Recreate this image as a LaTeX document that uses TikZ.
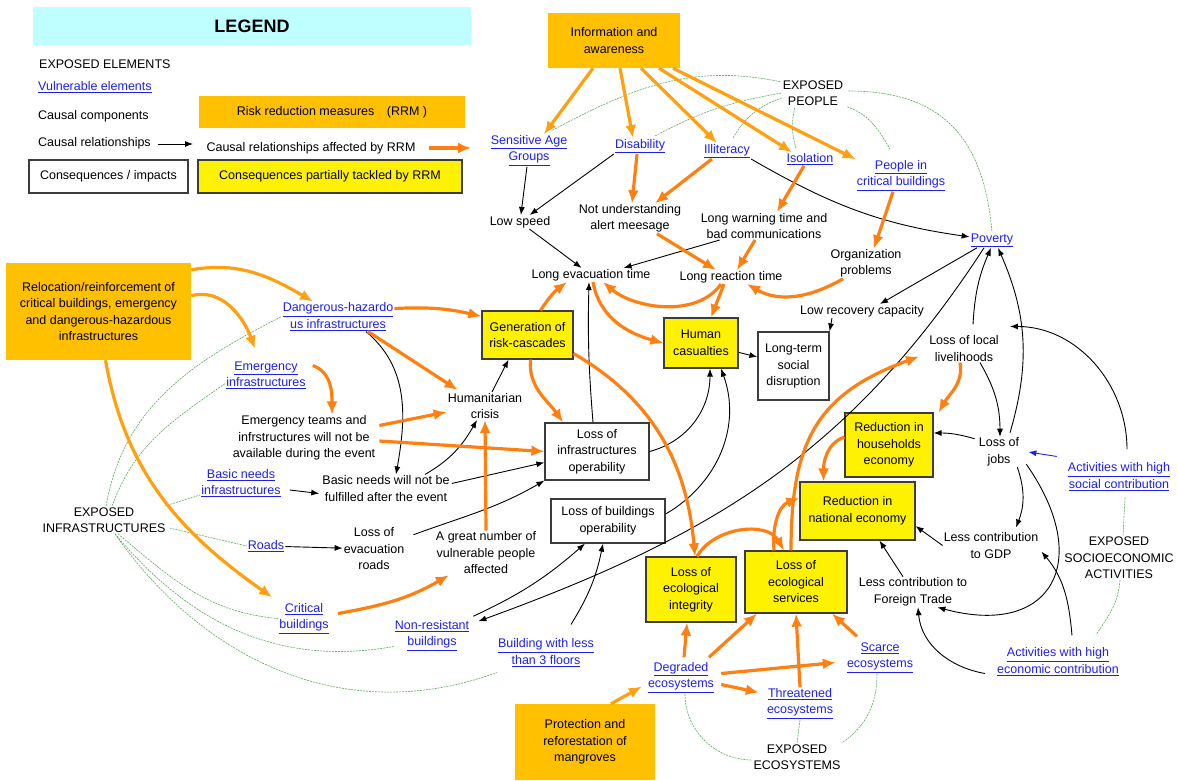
\documentclass[tikz,border=0pt]{standalone}
\usepackage{fontspec}
\setmainfont{Liberation Sans}
\usetikzlibrary{calc,arrows.meta}
\definecolor{rrmfill}{RGB}{255,192,0}
\definecolor{legcyan}{RGB}{192,255,255}
\definecolor{linkblue}{RGB}{30,30,240}
\definecolor{afforange}{RGB}{255,128,16}
\definecolor{measorange}{RGB}{255,160,16}
\definecolor{membgreen}{RGB}{90,170,90}
\definecolor{boxline}{RGB}{60,60,60}
\newcommand{\lnk}[1]{\underline{#1}}

\begin{document}
\begin{tikzpicture}[x=1pt,y=-1pt,>={Latex[length=8pt,width=6pt]},
	every node/.style={font=\fontsize{12.5}{16.5}\selectfont, align=center, inner sep=1pt},
	vul/.style={text=linkblue},
	rrmbox/.style={fill=rrmfill},
	impbox/.style={draw=boxline, line width=1.2pt, fill=white},
	partbox/.style={draw=boxline, line width=1.2pt, fill=yellow},
	cause/.style={->, line width=0.9pt},
	aff/.style={-{Latex[length=13pt,width=11pt]}, line width=3.2pt, draw=afforange},
	meas/.style={aff, draw=measorange},
	memb/.style={draw=membgreen, line width=0.6pt, dash pattern=on 2pt off 1pt}]
\useasboundingbox (0,0) rectangle (1178,780);

% legend
\node (LEG) at (252,26) [fill=legcyan, minimum width=438pt, minimum height=38pt, font=\bfseries\fontsize{18}{20}\selectfont] {LEGEND};
\node (LGEXP) at (38,64) [anchor=west] {EXPOSED ELEMENTS};
\node (LGVUL) at (37,87) [anchor=west, vul] {\lnk{Vulnerable elements}};
\node (LGCMP) at (37,116) [anchor=west] {Causal components};
\node (LGREL) at (37,143) [anchor=west] {Causal relationships};
\coordinate (LGRELEND) at (193,144);
\node (LGRRM) at (332,112) [rrmbox, minimum width=266pt, minimum height=32pt] {Risk reduction measures\quad(RRM )};
\node (LGAFF) at (311,148) {Causal relationships affected by RRM};
\coordinate (LGAFFEND) at (471,148);
\node (LGIMP) at (108.5,176.5) [impbox, minimum width=159pt, minimum height=33pt] {Consequences / impacts};
\node (LGPART) at (330,176.5) [partbox, minimum width=264pt, minimum height=33pt] {Consequences partially tackled by RRM};
\draw [cause] ($(LGREL.east)+(6,1)$) -- (LGRELEND);
\draw [aff] ($(LGAFF.east)+(12,0)$) -- (LGAFFEND);

% risk reduction measures
\node (INFO) at (614,40.5) [rrmbox, minimum width=132pt, minimum height=55pt] {Information and\\awareness};
\node (REL) at (98.5,311.5) [rrmbox, minimum width=185pt, minimum height=97pt] {Relocation/reinforcement of\\critical buildings, emergency\\and dangerous-hazardous\\infrastructures};
\node (PROT) at (585,742) [rrmbox, minimum width=140pt, minimum height=76pt] {Protection and\\reforestation of\\mangroves};

% exposed elements
\node (EP) at (813,93) {EXPOSED\\PEOPLE};
\node (EXINF) at (104,520) {EXPOSED\\INFRASTRUCTURES};
\node (EXECO) at (797,757) {EXPOSED\\ECOSYSTEMS};
\node (EXSOC) at (1119,558) {EXPOSED\\SOCIOECONOMIC\\ACTIVITIES};

% vulnerable elements
\node (SAG) at (529,150.5) [vul] {\lnk{Sensitive Age}\\\lnk{Groups}};
\node (DIS) at (640,146) [vul] {\lnk{Disability}};
\node (ILL) at (727,151) [vul] {\lnk{Illiteracy}};
\node (ISO) at (810,159) [vul] {\lnk{Isolation}};
\node (PCB) at (901,175.5) [vul] {\lnk{People in}\\\lnk{critical buildings}};
\node (POV) at (992,240) [vul] {\lnk{Poverty}};
\node (DHI) at (338,316.5) [vul] {\lnk{Dangerous-hazardo}\\\lnk{us infrastructures}};
\node (EI) at (266,375.5) [vul] {\lnk{Emergency}\\\lnk{infrastructures}};
\node (ASC) at (1119,476.5) [vul] {\lnk{Activities with high}\\\lnk{social contribution}};
\node (BNI) at (241,483) [vul] {\lnk{Basic needs}\\\lnk{infrastructures}};
\node (ROADS) at (266,546) [vul] {\lnk{Roads}};
\node (CB) at (304,618.5) [vul] {\lnk{Critical}\\\lnk{buildings}};
\node (NRB) at (432,635.5) [vul] {\lnk{Non-resistant}\\\lnk{buildings}};
\node (BL3) at (546,652.5) [vul] {\lnk{Building with less}\\\lnk{than 3 floors}};
\node (SE) at (880,657.5) [vul] {\lnk{Scarce}\\\lnk{ecosystems}};
\node (AEC) at (1058,661.5) [vul] {\lnk{Activities with high}\\\lnk{economic contribution}};
\node (DE) at (681,677.5) [vul] {\lnk{Degraded}\\\lnk{ecosystems}};
\node (TE) at (800,703.5) [vul] {\lnk{Threatened}\\\lnk{ecosystems}};

% causal components
\node (LS) at (520,222) {Low speed};
\node (NU) at (630,218.5) {Not understanding\\alert meesage};
\node (LWT) at (764,226) {Long warning time and\\bad communications};
\node (OP) at (866,263.5) {Organization\\problems};
\node (LET) at (591,275) {Long evacuation time};
\node (LRT) at (731,277) {Long reaction time};
\node (LRC) at (862,311) {Low recovery capacity};
\node (LLL) at (964,348.5) {Loss of local\\livelihoods};
\node (HCR) at (485,406) {Humanitarian\\crisis};
\node (ET) at (304,438) {Emergency teams and\\infrstructures will not be\\available during the event};
\node (JOBS) at (999,452) {Loss of\\jobs};
\node (BNF) at (386,488.5) {Basic needs will not be\\fulfilled after the event};
\node (LER) at (374,549) {Loss of\\evacuation\\roads};
\node (AGN) at (486,553) {A great number of\\vulnerable people\\affected};
\node (LCGDP) at (991,545.5) {Less contribution\\to GDP};
\node (LCFT) at (913,592) {Less contribution to\\Foreign Trade};

% consequences
\node (GRC) at (527.5,335) [partbox, minimum width=91pt, minimum height=48pt] {Generation of\\risk-cascades};
\node (HC) at (701,343) [partbox, minimum width=74pt, minimum height=50pt] {Human\\casualties};
\node (LTSD) at (793.5,366) [impbox, minimum width=71pt, minimum height=68pt] {Long-term\\social\\disruption};
\node (LIO) at (597,451.5) [impbox, minimum width=104pt, minimum height=57pt] {Loss of\\infrastructures\\operability};
\node (RHE) at (889,445) [partbox, minimum width=88pt, minimum height=64pt] {Reduction in\\households\\economy};
\node (RNE) at (857.5,511) [partbox, minimum width=115pt, minimum height=58pt] {Reduction in\\national economy};
\node (LBO) at (608,521) [impbox, minimum width=114pt, minimum height=44pt] {Loss of buildings\\operability};
\node (LEI) at (691,589.5) [partbox, minimum width=90pt, minimum height=65pt] {Loss of\\ecological\\integrity};
\node (LES) at (796,582) [partbox, minimum width=102pt, minimum height=62pt] {Loss of\\ecological\\services};

% membership
\draw [memb] ($(SAG.north east)+(-16,-4)$) to[out=28,in=168] ($(EP.west)+(0,-11)$);
\draw [memb] ($(DIS.north)+(15,-2)$) to[out=28,in=190] (EP.west);
\draw [memb] ($(ILL.north)+(6,-5)$) to[out=60,in=200] ($(EP.west)+(0,5)$);
\draw [memb] ($(ISO.north)+(-14,-4)$) to[bend left=15] ($(EP.south)+(-18,0)$);
\draw [memb] ($(EP.south east)+(3,0)$) to[out=-20,in=120] ($(PCB.north)+(-11,-10)$);
\draw [memb] ($(EP.east)+(4,-2)$) to[out=0,in=95,looseness=1.2] (POV.north);
\draw [memb] ($(EXINF.north)+(2,0)$) to[out=80,in=207] (DHI.west);
\draw [memb] ($(EXINF.north)+(8,0)$) to[out=70,in=215] ($(EI.west)+(0,8)$);
\draw [memb] ($(EXINF.east)+(-2,-14)$) -- ($(BNI.west)+(0,12)$);
\draw [memb] ($(EXINF.east)+(3,8)$) -- (ROADS.west);
\draw [memb] ($(EXINF.south)+(14,0)$) to[out=-40,in=175] (CB.west);
\draw [memb] ($(EXINF.south)+(11,0)$) to[out=-50,in=190] ($(NRB.west)+(0,11)$);
\draw [memb] ($(EXINF.south)+(11,0)$) to[out=-55,in=200] ($(BL3.south west)+(0,5)$);
\draw [memb] ($(DE.south)+(4,0)$) to[out=-90,in=180] ($(EXECO.west)+(0,3)$);
\draw [memb] (TE.south) -- (EXECO.north);
\draw [memb] ($(SE.south)+(-3,0)$) to[out=-90,in=35] (EXECO.north east);
\draw [memb] ($(ASC.south)+(6,6)$) -- ($(EXSOC.north)+(4,0)$);
\draw [memb] ($(EXSOC.south)+(1,0)$) to[out=-95,in=55] ($(AEC.north)+(38,-12)$);

% causal relationships
\draw [cause] (SAG) -- (LS);
\draw [cause] (DIS.south west) -- (LS);
\draw [cause] (ILL.south east) to[out=-30,in=172] (POV);
\draw [cause] (LS) -- (LET);
\draw [cause] ($(LWT.south west)+(20,0)$) -- ($(LET.north east)+(-28,0)$);
\draw [cause] ($(POV.south)+(-15,0)$) -- ($(LRC.north)+(18,0)$);
\draw [cause] ($(LRC.south)+(-30,0)$) -- (LTSD.north east);
\draw [cause] (HC) -- (LTSD);
\draw [cause] ($(POV.south)+(-8,0)$) to[out=237,in=20] ($(NRB.north east)+(8,2)$);
\draw [cause] ($(LLL.north)+(9,-10)$) to[bend left=10] ($(POV.south)+(-1,0)$);
\draw [cause] ($(JOBS.north)+(11,-4)$) to[bend right=20] ($(POV.south)+(6,0)$);
\draw [cause] ($(LLL.south)+(16,0)$) to[bend left=15] ($(JOBS.north)+(1,0)$);
\draw [cause] ($(ASC.north)+(8,-12)$) to[out=90,in=0] ($(LLL.north east)+(10,-8)$);
\draw [cause, draw=linkblue] ($(ASC.north west)+(-10,-5)$) -- ($(JOBS.east)+(8,0)$);
\draw [cause] ($(JOBS.north west)+(-3,2)$) to[bend right=8] ($(RHE.east)+(0,-12)$);
\draw [cause] ($(JOBS.south east)+(-3,0)$) to[bend left=20] ($(LCGDP.north)+(25,-4)$);
\draw [cause] ($(JOBS.south east)+(6,-3)$) to[out=-55,in=-15,looseness=1.8] ($(LCFT.south east)+(-31,0)$);
\draw [cause] (LCGDP.west) -- ($(RNE.east)+(0,15)$);
\draw [cause] ($(LCFT.north)+(-10,0)$) -- ($(RNE.south)+(22,0)$);
\draw [cause] ($(AEC.north)+(14,-11)$) to[out=95,in=-50] ($(LCGDP.south east)+(2,-8)$);
\draw [cause] ($(AEC.west)+(-11,12)$) to[out=170,in=-85] ($(LCFT.south)+(5,0)$);
\draw [cause] ($(DHI.south)+(28,0)$) to[out=-40,in=80] ($(BNF.north)+(10,0)$);
\draw [cause] ($(BNI.east)+(8,7)$) -- ($(BNF.west)+(-2,5)$);
\draw [cause] ($(BNF.north)+(39,0)$) to[out=30,in=-120] ($(HCR.south)+(-8,0)$);
\draw [cause] ($(BNF.north east)+(1,9)$) -- ($(LIO.west)+(0,11)$);
\draw [cause] (ROADS) -- (LER);
\draw [cause] ($(LER.north east)+(8,8)$) to[out=20,in=210] (LIO.south west);
\draw [cause] ($(HCR.north)+(7,0)$) -- ($(GRC.south)+(-19,0)$);
\draw [cause] ($(LIO.north)+(-4,0)$) to[bend left=3] ($(LET.south)+(-2,0)$);
\draw [cause] (LIO.east) to[out=15,in=-90] ($(HC.south)+(9,0)$);
\draw [cause] ($(LBO.east)+(0,-7)$) to[out=30,in=-70] ($(HC.south)+(20,0)$);
\draw [cause] ($(NRB.north east)+(3,-3)$) to[bend right=8] ($(LBO.south)+(-23,0)$);
\draw [cause] ($(BL3.north)+(25,-13)$) to[bend right=10] ($(LBO.south)+(-5,0)$);

% relationships affected by RRM
\draw [meas] ($(INFO.south)+(-21,0)$) -- ($(SAG.north)+(15,0)$);
\draw [meas] ($(INFO.south)+(6,0)$) -- ($(DIS.north)+(-7,0)$);
\draw [meas] ($(INFO.south)+(27,0)$) -- ($(ILL.north)+(-10,0)$);
\draw [meas] ($(INFO.south)+(45,0)$) -- ($(ISO.north)+(-18,0)$);
\draw [meas] ($(INFO.south)+(59,0)$) -- (PCB.north west);
\draw [meas] ($(REL.north east)+(0,7)$) to[out=10,in=150] ($(DHI.north)+(-25,0)$);
\draw [meas] ($(REL.north east)+(0,33)$) to[out=15,in=110] ($(EI.north)+(-11,-12)$);
\draw [meas] ($(REL.south)+(7,0)$) to[out=-80,in=145] ($(CB.north west)+(-6,-5)$);
\draw [meas] ($(PROT.north)+(26,0)$) -- ($(DE.west)+(-5,9)$);

\draw [aff] ($(DIS.south)+(-3,0)$) -- ($(NU.north)+(2,0)$);
\draw [aff] ($(ILL.south west)+(9,0)$) -- ($(NU.north)+(25,0)$);
\draw [aff] ($(ISO.south)+(-6,0)$) -- ($(LWT.north)+(13,0)$);
\draw [aff] ($(PCB.south)+(-8,0)$) -- ($(OP.north)+(8,0)$);
\draw [aff] ($(NU.south)+(27,0)$) -- ($(LRT.north)+(-15,0)$);
\draw [aff] ($(LWT.south)+(-9,0)$) -- ($(LRT.north)+(6,0)$);
\draw [aff] ($(OP.south)+(-23,0)$) to[out=-150,in=-30] ($(LRT.south)+(16,0)$);
\draw [aff] ($(LRT.south)+(-7,0)$) -- ($(HC.north)+(10,0)$);
\draw [aff] ($(LRT.south)+(-10,0)$) to[out=-125,in=-40,looseness=0.9] ($(LET.south)+(12,0)$);
\draw [aff] ($(GRC.north)+(13,0)$) to[bend left=10] ($(LET.south)+(-24,0)$);
\draw [aff] ($(LET.south)+(2,0)$) to[out=-80,in=165] (HC.west);
\draw [aff] ($(DHI.east)+(0,-8)$) to[bend left=8] ($(GRC.north west)+(0,6)$);
\draw [aff] ($(DHI.south)+(30,0)$) -- ($(HCR.north west)+(11,-2)$);
\draw [aff] ($(EI.east)+(6,-10)$) to[out=-20,in=90] ($(ET.north)+(28,0)$);
\draw [aff] ($(ET.north east)+(3,11)$) -- ($(HCR.west)+(0,6)$);
\draw [aff] ($(ET.east)+(3,3)$) -- (LIO.west);
\draw [aff] ($(GRC.south)+(3,0)$) to[out=-95,in=125] ($(LIO.north)+(-34,0)$);
\draw [aff] ($(GRC.south east)+(0,-6)$) to[out=-30,in=95] ($(LEI.north)+(4,0)$);
\draw [aff] (AGN.north) -- (HCR.south);
\draw [aff] ($(CB.east)+(8,-5)$) to[out=10,in=-150] ($(AGN.south west)+(14,0)$);
\draw [aff] ($(LEI.north)+(6,0)$) to[out=60,in=120] ($(LES.north)+(-12,0)$);
\draw [aff] ($(LES.north)+(-22,0)$) to[out=95,in=200] ($(RNE.west)+(0,-13)$);
\draw [aff] ($(LES.north)+(-5,0)$) to[out=90,in=200,looseness=1.2] ($(LLL.west)+(-9,8)$);
\draw [aff] ($(RHE.west)+(0,-8)$) to[out=200,in=90] ($(RNE.north)+(-34,0)$);
\draw [aff] ($(LLL.south)+(-4,0)$) to[out=-80,in=60] ($(RHE.north east)+(5,0)$);
\draw [aff] ($(DE.north)+(3,-4)$) -- ($(LEI.south)+(-4,0)$);
\draw [aff] ($(DE.north)+(28,-4)$) -- ($(LES.south)+(-39,0)$);
\draw [aff] ($(DE.east)+(6,-4)$) -- ($(SE.west)+(-10,5)$);
\draw [aff] ($(DE.east)+(6,7)$) -- ($(TE.west)+(-7,-11)$);
\draw [aff] (TE.north) -- (LES.south);
\draw [aff] ($(SE.north)+(-23,-5)$) -- ($(LES.south)+(36,0)$);
\end{tikzpicture}
\end{document}
